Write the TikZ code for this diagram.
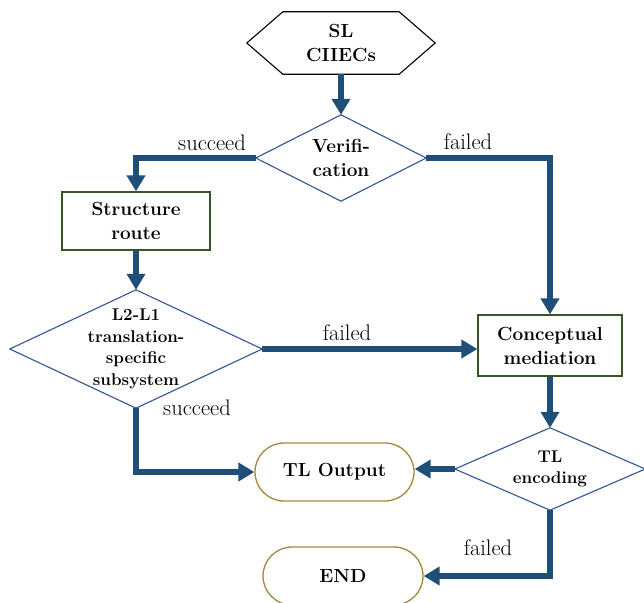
\documentclass[tikz,border=0pt]{standalone}
\usepackage{fontspec}
\usetikzlibrary{arrows.meta,shapes.misc,calc}
\definecolor{arrowblue}{HTML}{1F4E79}
\definecolor{diablue}{HTML}{2F5597}
\definecolor{boxgreen}{HTML}{375623}
\definecolor{termgold}{HTML}{A08A3A}
\tikzset{
  flow/.style={draw=arrowblue,line width=6pt,-{Triangle[length=16pt,width=18pt]}},
  textbox/.style={align=center,font=\fontsize{19}{24}\selectfont\bfseries,inner sep=0pt},
  smalltext/.style={font=\fontsize{17}{21.5}\selectfont\bfseries},
  diatext/.style={textbox,draw=none},
  diaborder/.style={draw=diablue,line width=1.1pt},
  procbox/.style={textbox,draw=boxgreen,line width=1.3pt,fill=white},
  termbox/.style={textbox,draw=termgold,line width=1.3pt,rounded rectangle,fill=white},
  lbl/.style={font=\fontsize{22.5}{26}\selectfont,inner sep=0pt}
}
\begin{document}
\begin{tikzpicture}[x=1pt,y=-1pt]
\useasboundingbox (0,0) rectangle (644,602);
% start hexagon
\node[textbox,minimum width=188pt,minimum height=62pt] (sl) at (341,43) {SL\\CIIECs};
\draw[black,line width=1.1pt] (sl.west) -- ($(sl.north west)+(36,0)$) -- ($(sl.north east)+(-36,0)$) -- (sl.east) -- ($(sl.south east)+(-36,0)$) -- ($(sl.south west)+(36,0)$) -- cycle;
% verification diamond
\node[diatext,minimum width=170pt,minimum height=86pt] (ver) at (341,158) {Verifi-\\cation};
\draw[diaborder] (ver.north) -- (ver.east) -- (ver.south) -- (ver.west) -- cycle;
% structure route
\node[procbox,minimum width=148pt,minimum height=58pt] (str) at (136,221) {Structure\\route};
% L2-L1 diamond
\node[diatext,smalltext,minimum width=252pt,minimum height=118pt] (l2) at (136,349) {L2-L1\\translation-\\specific\\subsystem};
\draw[diaborder] (l2.north) -- (l2.east) -- (l2.south) -- (l2.west) -- cycle;
% conceptual mediation
\node[procbox,minimum width=144pt,minimum height=61pt] (con) at (550,345.5) {Conceptual\\mediation};
% TL encoding diamond
\node[diatext,smalltext,minimum width=190pt,minimum height=82pt] (tle) at (550,469) {TL\\encoding};
\draw[diaborder] (tle.north) -- (tle.east) -- (tle.south) -- (tle.west) -- cycle;
% terminals
\node[termbox,minimum width=159pt,minimum height=58pt] (out) at (334.5,472) {TL Output};
\node[termbox,minimum width=160pt,minimum height=58pt] (end) at (343,576) {END};
% connectors
\draw[flow] (sl.south) -- (ver.north);
\draw[flow] (ver.west) -| (str.north);
\draw[flow] (ver.east) -| (con.north);
\draw[flow] (str.south) -- (l2.north);
\draw[flow] (l2.east) -- (l2.east -| con.west);
\draw[flow] (con.south) -- (tle.north);
\draw[flow] (tle.west) -- (tle.west -| out.east);
\draw[flow] (l2.south) |- (out.west);
\draw[flow] (tle.south) |- (end.east);
% labels
\node[lbl] (l1) at (212,143) {succeed};
\node[lbl] (l2f) at (468,142) {failed};
\node[lbl] (l3) at (347,333) {failed};
\node[lbl] (l4) at (197,408) {succeed};
\node[lbl] (l5) at (488,548) {failed};
\end{tikzpicture}
\end{document}
